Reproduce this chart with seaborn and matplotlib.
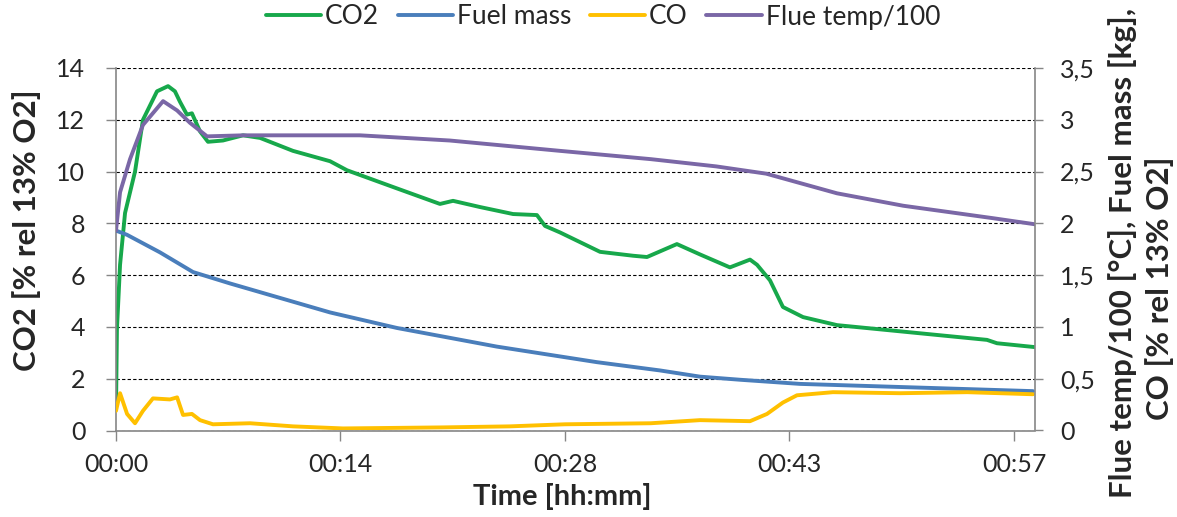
import matplotlib
matplotlib.use("Agg")
import matplotlib.pyplot as plt
import seaborn as sns

# time axis in minutes since start
co2_t = [0, 0.06, 0.26, 0.58, 1.22, 1.73, 2.63, 3.34, 3.78, 4.1, 4.55, 4.87, 5.39, 5.9,
         6.86, 8.15, 9.24, 11.35, 13.73, 14.82, 18.02, 20.78, 21.62, 23.35, 25.47, 27.0,
         27.52, 28.48, 31.05, 33.16, 34.06, 35.98, 37.46, 39.38, 40.67, 41.12, 41.95,
         42.78, 44.07, 46.25, 49.46, 52.66, 55.87, 56.51, 58.95]
co2 = [0.8, 3.9, 6.4, 8.4, 10.0, 12.0, 13.1, 13.3, 13.1, 12.7, 12.2, 12.25, 11.55, 11.15,
       11.2, 11.4, 11.3, 10.8, 10.4, 10.05, 9.35, 8.75, 8.87, 8.63, 8.36, 8.32,
       7.9, 7.65, 6.9, 6.75, 6.7, 7.2, 6.8, 6.3, 6.6, 6.4, 5.8,
       4.77, 4.38, 4.07, 3.88, 3.69, 3.5, 3.37, 3.22]

fuel_t = [0, 0.7, 2.82, 4.94, 7.31, 13.73, 18.02, 24.43, 30.84, 34.89, 37.46, 40.03,
          43.88, 50.3, 58.82]
fuel = [1.93, 1.89, 1.72, 1.53, 1.42, 1.14, 0.99, 0.81, 0.66, 0.58, 0.52, 0.49,
        0.45, 0.42, 0.38]

co_t = [0, 0.26, 0.71, 1.22, 1.73, 2.37, 3.46, 3.92, 4.3, 4.87, 5.39, 6.22, 8.6, 11.35,
        14.56, 20.97, 25.27, 28.8, 34.3, 37.46, 40.67, 41.76, 42.78, 43.68, 45.99,
        50.3, 54.6, 58.82]
co = [0.19, 0.36, 0.16, 0.07, 0.19, 0.31, 0.30, 0.32, 0.15, 0.16, 0.10, 0.06, 0.07, 0.04,
      0.02, 0.03, 0.04, 0.06, 0.07, 0.10, 0.09, 0.16, 0.27, 0.34, 0.37,
      0.36, 0.37, 0.35]

flue_t = [0, 0.26, 0.9, 1.73, 3.02, 3.92, 4.75, 5.84, 8.15, 13.73, 15.65, 21.4, 28.48,
          34.3, 38.5, 41.7, 46.25, 50.5, 56.25, 59.0]
flue = [1.93, 2.3, 2.62, 2.95, 3.18, 3.09, 2.97, 2.84, 2.85, 2.85, 2.85, 2.80, 2.70,
        2.62, 2.55, 2.48, 2.29, 2.17, 2.05, 1.99]

x_ticks = [0, 14.4, 28.8, 43.2, 57.6]
x_labels = ["00:00", "00:14", "00:28", "00:43", "00:57"]
left_ticks = [0, 2, 4, 6, 8, 10, 12, 14]
right_ticks = [0, 0.5, 1, 1.5, 2, 2.5, 3, 3.5]
right_labels = ["0", "0,5", "1", "1,5", "2", "2,5", "3", "3,5"]

GREEN = "#17a84b"
BLUE = "#4a7ebb"
YELLOW = "#ffc000"
PURPLE = "#7a67a6"
AXIS = "#868686"

sns.set_theme(style="white")
plt.rcParams['font.family'] = ['Lato', 'DejaVu Sans']

W, H = 1177, 517
fig = plt.figure(figsize=(W / 100, H / 100), dpi=100)
ax1 = fig.add_axes([116 / W, 1 - 430.5 / H, (1035 - 116) / W, (430.5 - 68) / H])
ax2 = ax1.twinx()

lw = 2.8
sns.lineplot(x=co2_t, y=co2, ax=ax1, color=GREEN, lw=lw, label="CO2", estimator=None)
sns.lineplot(x=fuel_t, y=fuel, ax=ax2, color=BLUE, lw=lw, label="Fuel mass", estimator=None)
sns.lineplot(x=co_t, y=co, ax=ax2, color=YELLOW, lw=lw, label="CO", estimator=None)
sns.lineplot(x=flue_t, y=flue, ax=ax2, color=PURPLE, lw=lw, label="Flue temp/100", estimator=None)

h1, l1 = ax1.get_legend_handles_labels()
h2, l2 = ax2.get_legend_handles_labels()
ax1.get_legend().remove()
ax2.get_legend().remove()
fig.legend(h1 + h2, l1 + l2, loc="center", bbox_to_anchor=(603 / W, 1 - 17 / H), ncol=4,
           frameon=False, fontsize=19, handlelength=2.1, handletextpad=0.15,
           columnspacing=0.7)

ax1.set_xlim(0, 58.95)
ax1.set_ylim(0, 14)
ax2.set_ylim(0, 3.5)
ax1.set_xticks(x_ticks)
ax1.set_xticklabels(x_labels)
ax1.set_yticks(left_ticks)
ax2.set_yticks(right_ticks)
ax2.set_yticklabels(right_labels)
ax1.set_xlabel("")
ax1.set_ylabel("")
ax2.set_ylabel("")

ax1.set_axisbelow(True)
ax1.yaxis.grid(True, color="black", linestyle=(0, (3, 2)), lw=0.8)
ax1.xaxis.grid(False)
ax2.grid(False)

ax1.tick_params(axis="x", bottom=True, direction="out", length=7, width=1, color=AXIS,
                pad=9, labelsize=18)
ax1.tick_params(axis="y", left=True, direction="out", length=7, width=1, color=AXIS,
                pad=15, labelsize=18)
ax2.tick_params(axis="y", right=True, direction="out", length=6, width=1, color=AXIS,
                pad=12, labelsize=18)

for ax in (ax1, ax2):
    ax.spines["top"].set_visible(False)
    for s in ("left", "right", "bottom"):
        ax.spines[s].set_color(AXIS)
        ax.spines[s].set_linewidth(1.2)
ax1.spines["right"].set_visible(False)
ax2.spines["left"].set_visible(False)
ax2.spines["bottom"].set_visible(False)

fig.text(27 / W, 1 - 230 / H, "CO2 [% rel 13% O2]", rotation=90, ha="center",
         va="center", fontsize=22.5, fontweight="bold")
fig.text(1123 / W, 1 - 498 / H, "Flue temp/100 [°C], Fuel mass [kg],", rotation=90,
         ha="center", va="bottom", fontsize=22.5, fontweight="bold")
fig.text(1160 / W, 1 - 420 / H, "CO [% rel 13% O2]", rotation=90, ha="center",
         va="bottom", fontsize=22.5, fontweight="bold")
fig.text(562 / W, 1 - 497 / H, "Time [hh:mm]", ha="center", va="center",
         fontsize=21, fontweight="bold")

fig.savefig("out.png", dpi=100)
